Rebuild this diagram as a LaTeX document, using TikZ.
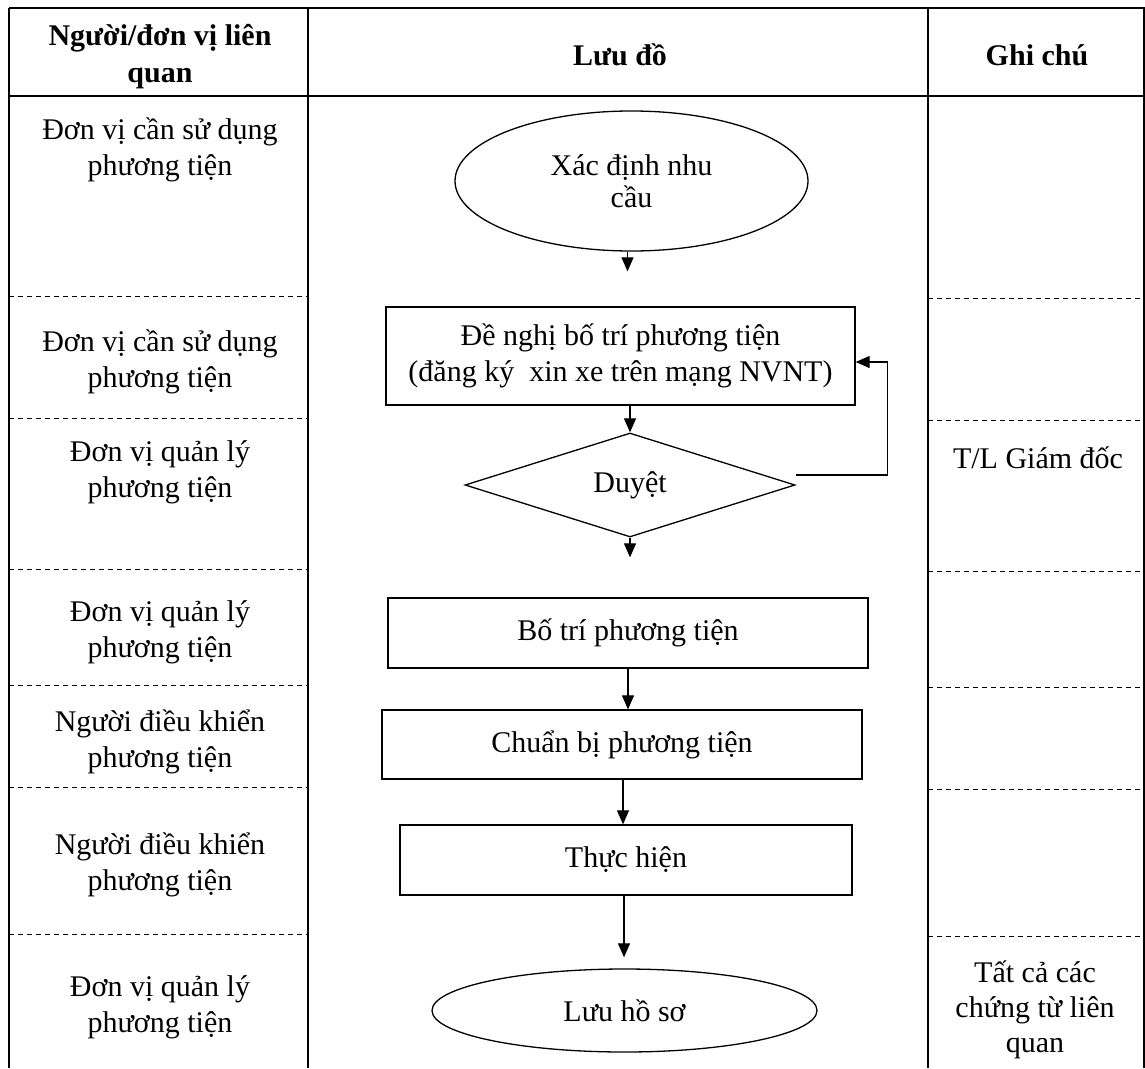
\documentclass[tikz,border=0pt]{standalone}
\usepackage{fontspec}
\setmainfont{Liberation Serif}
\usetikzlibrary{shapes.geometric,arrows.meta}
\begin{document}
\begin{tikzpicture}[x=1pt,y=-1pt,
  font=\fontsize{30}{36}\selectfont,
  gridline/.style={line width=1.2pt},
  sepline/.style={line width=1pt, dash pattern=on 5pt off 4pt},
  txt/.style={align=center, inner sep=0pt},
  hdr/.style={align=center, inner sep=0pt, font=\fontsize{30}{37}\selectfont\bfseries},
  procbox/.style={draw, line width=1.3pt, rectangle, inner sep=0pt, align=center},
  term/.style={draw, line width=1.3pt, ellipse, inner sep=0pt, align=center},
  decide/.style={draw, line width=1.3pt, diamond, inner sep=0pt, align=center},
  arr/.style={line width=1.1pt, -{Triangle[length=14pt,width=12pt]}}
]
\useasboundingbox (0,0) rectangle (1145,1068);
\fill[white] (0,0) rectangle (1145,1068);

% table frame
\draw[gridline] (9,8) -- (1145,8);
\draw[gridline] (9,96) -- (1145,96);
\draw[gridline] (9,8) -- (9,1068);
\draw[gridline] (308,8) -- (308,1068);
\draw[gridline] (928,8) -- (928,1068);
\draw[gridline] (1144,8) -- (1144,1068);
\foreach \yy in {296,418,569,685,787,934} \draw[sepline] (9,\yy) -- (308,\yy);
\foreach \yy in {298,420,571,687,789,936} \draw[sepline] (928,\yy) -- (1145,\yy);

% headers
\node[hdr] (h1) at (160,57) {Người/đơn vị liên\\quan};
\node[hdr] (h2) at (620,55) {Lưu đồ};
\node[hdr] (h3) at (1037,55) {Ghi chú};

% left column
\node[txt] (p1) at (160,150) {Đơn vị cần sử dụng\\phương tiện};
\node[txt] (p2) at (160,362) {Đơn vị cần sử dụng\\phương tiện};
\node[txt] (p3) at (160,472) {Đơn vị quản lý\\phương tiện};
\node[txt] (p4) at (160,632) {Đơn vị quản lý\\phương tiện};
\node[txt] (p5) at (160,742) {Người điều khiển\\phương tiện};
\node[txt] (p6) at (160,865) {Người điều khiển\\phương tiện};
\node[txt] (p7) at (160,1007) {Đơn vị quản lý\\phương tiện};

% right column
\node[txt] (n1) at (1038,458) {T/L Giám đốc};
\node[txt, font=\fontsize{30}{35}\selectfont] (n2) at (1035,1010) {Tất cả các\\chứng từ liên\\quan};

% flowchart
\node[term, font=\fontsize{30}{32}\selectfont, minimum width=353pt, minimum height=140pt] (e1) at (631.5,181) {Xác định nhu\\cầu};
\node[procbox, minimum width=469pt, minimum height=98pt] (b1) at (620.5,356) {Đề nghị bố trí phương tiện\\(đăng ký\ \ xin xe trên mạng NVNT)};
\node[decide, minimum width=330pt, minimum height=104pt] (d) at (630,485) {\raisebox{-4pt}{Duyệt}};
\node[procbox, minimum width=480pt, minimum height=70pt] (b2) at (628,633) {Bố trí phương tiện};
\node[procbox, minimum width=480pt, minimum height=69pt] (b3) at (622,744.5) {Chuẩn bị phương tiện};
\node[procbox, minimum width=452pt, minimum height=70pt] (b4) at (626,860) {Thực hiện};
\node[term, minimum width=385pt, minimum height=83pt] (e2) at (624.5,1010.5) {Lưu hồ sơ};

% connectors
\draw[arr, shorten >=35pt] ([xshift=-4pt]e1.south) -- ([xshift=-4pt]e1.south |- b1.north);
\draw[arr] (d.north |- b1.south) -- (d.north);
\draw[arr] ([yshift=10pt]d.east) -| ([xshift=32pt,yshift=-6pt]b1.east) -- ([yshift=-6pt]b1.east);
\draw[arr, shorten >=40pt] (d.south) -- (d.south |- b2.north);
\draw[arr] (b2.south) -- (b2.south |- b3.north);
\draw[arr] ([xshift=1pt]b3.south) -- ([xshift=1pt]b3.south |- b4.north);
\draw[arr, shorten >=11pt] ([xshift=-2pt]b4.south) -- ([xshift=-2pt]b4.south |- e2.north);
\end{tikzpicture}
\end{document}
